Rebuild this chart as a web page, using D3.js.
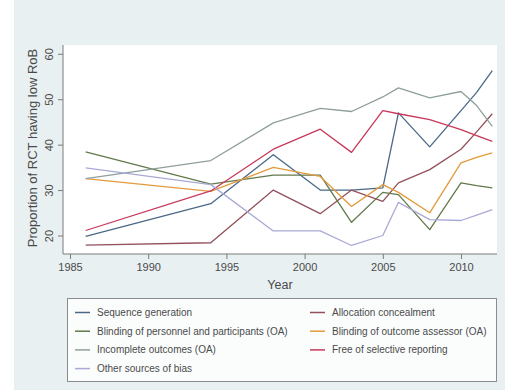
<!DOCTYPE html>
<html>
<head>
<meta charset="utf-8">
<script src="https://cdnjs.cloudflare.com/ajax/libs/d3/7.8.5/d3.min.js"></script>
<style>
html,body{margin:0;padding:0;background:#ffffff;}
svg{display:block;font-family:"Liberation Sans",Arial,sans-serif;}
</style>
</head>
<body>
<svg id="chart" width="505" height="390"></svg>
<script>
// ---- data ----
const years = [1986, 1994, 1998, 2001, 2003, 2005, 2006, 2008, 2010, 2011, 2012];
const seriesNames = [
  "Sequence generation",
  "Allocation concealment",
  "Blinding of personnel and participants (OA)",
  "Blinding of outcome assessor (OA)",
  "Incomplete outcomes (OA)",
  "Free of selective reporting",
  "Other sources of bias"
];
const seqGeneration   = [19.8, 27.0, 37.8, 30.0, 30.0, 30.5, 47.0, 39.5, 47.5, 51.5, 56.3];
const allocConceal    = [17.9, 18.4, 30.0, 24.8, 30.0, 27.5, 31.6, 34.5, 39.0, 42.8, 46.8];
const blindPersonnel  = [38.4, 31.3, 33.3, 33.3, 22.9, 29.5, 29.0, 21.3, 31.6, 31.0, 30.5];
const blindOutcome    = [32.5, 29.7, 35.0, 33.0, 26.4, 31.2, 29.5, 25.0, 36.0, 37.2, 38.2];
const incomplete      = [32.5, 36.5, 44.8, 48.0, 47.3, 50.5, 52.5, 50.3, 51.7, 48.6, 44.0];
const selective       = [21.1, 29.8, 39.0, 43.4, 38.3, 47.5, 46.8, 45.5, 43.3, 42.0, 40.7];
const otherBias       = [34.9, 31.2, 21.0, 21.0, 17.8, 20.0, 27.3, 23.5, 23.3, 24.5, 25.7];
const seriesValues = [seqGeneration, allocConceal, blindPersonnel, blindOutcome, incomplete, selective, otherBias];
const seriesColors = ["#4a6886", "#93505a", "#62794a", "#e39a3c", "#8f9f9a", "#c8385a", "#a9a9d6"];
const xTicks = [1985, 1990, 1995, 2000, 2005, 2010];
const yTicks = [20, 30, 40, 50, 60];

// ---- layout ----
const svg = d3.select("#chart");
const plot = {left: 63, right: 497, top: 45, bottom: 254};

svg.append("rect").attr("x", 14).attr("y", 0).attr("width", 491).attr("height", 390).attr("fill", "#e9f0f2");
svg.append("rect").attr("x", plot.left).attr("y", plot.top)
   .attr("width", plot.right - plot.left).attr("height", plot.bottom - plot.top).attr("fill", "#ffffff");

const x = d3.scaleLinear().domain([1985, 2010]).range([70, 461]);
const y = d3.scaleLinear().domain([20, 60]).range([235.5, 53.8]);

// axes
const xAxis = svg.append("g").attr("transform", `translate(0,${plot.bottom})`)
  .call(d3.axisBottom(x).tickValues(xTicks).tickFormat(d3.format("d")).tickSize(5).tickPadding(4).tickSizeOuter(0));
xAxis.select(".domain").remove();
xAxis.append("line").attr("x1", plot.left).attr("x2", plot.right).attr("y1", 0).attr("y2", 0).attr("stroke", "#7a7a7a");
xAxis.selectAll(".tick line").attr("stroke", "#7a7a7a");
xAxis.selectAll(".tick text").attr("font-size", 11).attr("fill", "#4a4a4a").attr("font-family", "Liberation Sans, Arial, sans-serif");

const yAxis = svg.append("g").attr("transform", `translate(${plot.left},0)`)
  .call(d3.axisLeft(y).tickValues(yTicks).tickSize(5).tickPadding(4).tickSizeOuter(0));
yAxis.select(".domain").remove();
yAxis.append("line").attr("x1", 0).attr("x2", 0).attr("y1", plot.top).attr("y2", plot.bottom).attr("stroke", "#7a7a7a");
yAxis.selectAll(".tick line").attr("stroke", "#7a7a7a");
yAxis.selectAll(".tick text")
  .attr("font-size", 11).attr("fill", "#4a4a4a").attr("font-family", "Liberation Sans, Arial, sans-serif")
  .attr("x", null).attr("dy", null)
  .attr("text-anchor", "middle")
  .attr("transform", "translate(-10,0) rotate(-90)");

// titles
svg.append("text").attr("x", 280).attr("y", 289).attr("text-anchor", "middle")
  .attr("font-size", 12.5).attr("fill", "#4a4a4a").text("Year");
svg.append("text").attr("transform", "translate(37,148) rotate(-90)").attr("text-anchor", "middle")
  .attr("font-size", 13).attr("fill", "#4a4a4a").text("Proportion of RCT having low RoB");

// lines
const line = d3.line().x((d, i) => x(years[i])).y(d => y(d));
seriesValues.forEach((vals, k) => {
  svg.append("path").datum(vals).attr("d", line)
    .attr("fill", "none").attr("stroke", seriesColors[k]).attr("stroke-width", 1.3)
    .attr("stroke-linejoin", "round");
});

// legend
svg.append("rect").attr("x", 67.5).attr("y", 298.5).attr("width", 429).attr("height", 83)
  .attr("fill", "#fbfdfd").attr("stroke", "#8c8c8c").attr("stroke-width", 1);
const legCols = [75, 310];
const rowY0 = 312.5, rowStep = 18.7;
seriesNames.forEach((name, k) => {
  const col = k % 2, row = Math.floor(k / 2);
  const ly = rowY0 + row * rowStep;
  svg.append("line").attr("x1", legCols[col]).attr("x2", legCols[col] + 15)
    .attr("y1", ly).attr("y2", ly).attr("stroke", seriesColors[k]).attr("stroke-width", 1.5);
  svg.append("text").attr("x", legCols[col] + 22).attr("y", ly + 3.5)
    .attr("font-size", 10).attr("fill", "#4a4a4a").text(name);
});
</script>
</body>
</html>
